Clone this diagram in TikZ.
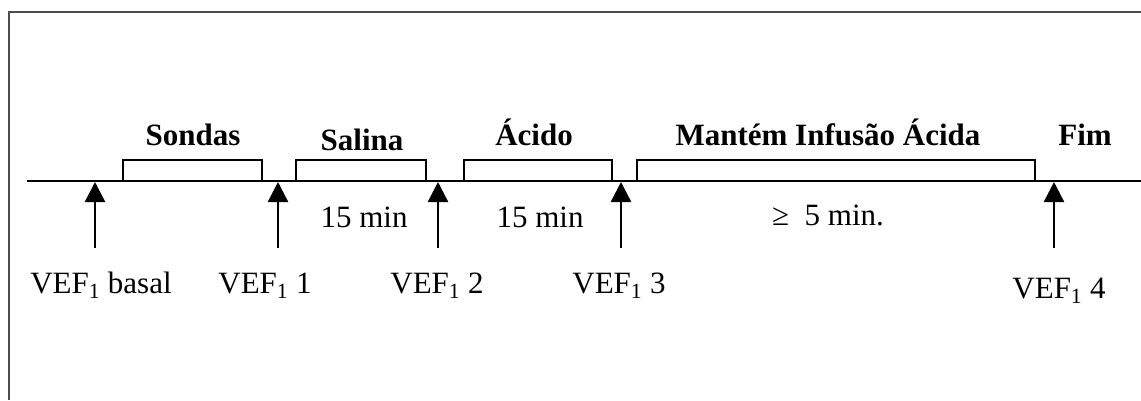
\documentclass[tikz,border=0pt]{standalone}
\usepackage{fontspec}
\setmainfont{Liberation Serif}
\usetikzlibrary{arrows.meta}
\begin{document}
\begin{tikzpicture}[x=1pt,y=-1pt,
  txt/.style={inner sep=0pt,anchor=base,font=\fontsize{31}{37}\selectfont},
  head/.style={txt,font=\fontsize{31}{37}\selectfont\bfseries},
  bracket/.style={line width=2pt},
  mainline/.style={line width=2.8pt},
  marker/.style={line width=2.5pt,-{Triangle[width=20pt,length=20pt]}},
  frame/.style={line width=2pt,draw=black!70}]
\useasboundingbox (0,0) rectangle (1141,400);
\draw[frame] (9,400) -- (9,12) -- (1141,12);
% main time line
\coordinate (L0) at (27,181);
\coordinate (L1) at (1141,181);
\draw[mainline] (L0) -- (L1);
% brackets
\draw[bracket] (123,181) -- (123,160) -- (262,160) -- (262,181);
\draw[bracket] (296,181) -- (296,160) -- (426,160) -- (426,181);
\draw[bracket] (464,181) -- (464,160) -- (612,160) -- (612,181);
\draw[bracket] (637,181) -- (637,160) -- (1035,160) -- (1035,181);
% headings
\node[head] (sondas) at (193,145) {Sondas};
\node[head] (salina) at (362,150) {Salina};
\node[head] (acido) at (534,145) {Ácido};
\node[head] (mantem) at (828,145) {Mantém Infusão Ácida};
\node[head] (fim) at (1085,145) {Fim};
% durations
\node[txt] (d1) at (364,227) {15 min};
\node[txt] (d2) at (540,227) {15 min};
\node[txt] (d3) at (828,225) {≥\ \ 5 min.};
% measurement labels
\node[txt] (v0) at (101,293) {VEF\textsubscript{1} basal};
\node[txt] (v1) at (265,293) {VEF\textsubscript{1} 1};
\node[txt] (v2) at (437,293) {VEF\textsubscript{1} 2};
\node[txt] (v3) at (619,293) {VEF\textsubscript{1} 3};
\node[txt] (v4) at (1059,298) {VEF\textsubscript{1} 4};
% arrows
\foreach \n/\x in {0/95,1/278,2/438,3/621,4/1054}{
  \coordinate (a\n) at (\x,248);
  \coordinate (t\n) at (\x,182);
  \draw[marker] (a\n) -- (t\n);
}
\end{tikzpicture}
\end{document}
